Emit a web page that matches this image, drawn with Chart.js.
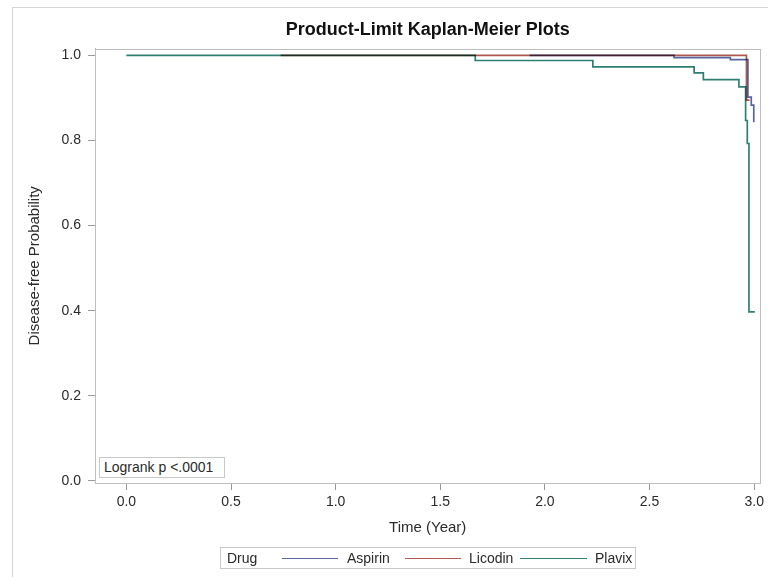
<!DOCTYPE html>
<html>
<head>
<meta charset="utf-8">
<script src="https://cdn.jsdelivr.net/npm/chart.js@4/dist/chart.umd.min.js"></script>
<style>
  html, body { margin: 0; padding: 0; background: #fff; }
  #wrap { position: relative; width: 768px; height: 577px; overflow: hidden; font-family: "Liberation Sans", Arial, sans-serif; color: #2a2a2a; }
  #frame { position: absolute; left: 12px; top: 7px; width: 800px; height: 600px; border-left: 1px solid #d6d6d6; border-top: 1px solid #d6d6d6; }
  canvas { position: absolute; left: 0; top: 0; }
  #logrank { position: absolute; left: 99px; top: 457px; width: 120px; height: 19px; border: 1px solid #c8c8c8; background: #fff; font-size: 14px; line-height: 19px; padding-left: 4px; box-sizing: content-box; }
  #legend { position: absolute; left: 220px; top: 547px; width: 414px; height: 20px; border: 1px solid #c8c8c8; font-size: 14px; }
  #legend span { position: absolute; top: 0; line-height: 20px; white-space: nowrap; }
  #legend i { position: absolute; top: 10px; height: 0; border-top: 1.5px solid; }
</style>
</head>
<body>
<div id="wrap">
  <div id="frame"></div>
  <canvas id="c" width="768" height="577"></canvas>
  <div id="logrank">Logrank p &lt;.0001</div>
  <div id="legend"></div>
</div>
<script>
// ---- data ----
const drugNames = ["Aspirin", "Licodin", "Plavix"];
const drugColors = ["#5865a2", "#b05850", "#2d7f71"];

const aspirinTime = [1.927, 2.617, 2.886, 2.970, 2.986, 2.998];
const aspirinSurv = [1.000, 0.995, 0.990, 0.902, 0.883, 0.843];

const licodinTime = [0.737, 2.963, 2.978];
const licodinSurv = [1.000, 0.895, 0.895];

const plavixTime = [0.000, 1.667, 2.229, 2.713, 2.757, 2.927, 2.959, 2.967, 2.975, 3.003];
const plavixSurv = [1.000, 0.988, 0.973, 0.959, 0.943, 0.926, 0.847, 0.793, 0.397, 0.397];

const xTicks = [0.0, 0.5, 1.0, 1.5, 2.0, 2.5, 3.0];
const yTicks = [0.0, 0.2, 0.4, 0.6, 0.8, 1.0];

const titleText = "Product-Limit Kaplan-Meier Plots";
const xTitle = "Time (Year)";
const yTitle = "Disease-free Probability";
const legendTitle = "Drug";

// ---- build ----
function pts(t, s) { return t.map((v, i) => ({ x: v, y: s[i] })); }
const series = [pts(aspirinTime, aspirinSurv), pts(licodinTime, licodinSurv), pts(plavixTime, plavixSurv)];

const FONT = "'Liberation Sans', Arial, sans-serif";

const framePlugin = {
  id: 'frame',
  beforeDatasetsDraw(chart) {
    const a = chart.chartArea, ctx = chart.ctx;
    ctx.save();
    ctx.strokeStyle = '#bdbdbd';
    ctx.lineWidth = 1;
    ctx.strokeRect(Math.round(a.left) + 0.5, Math.round(a.top) + 0.5, Math.round(a.right - a.left), Math.round(a.bottom - a.top));
    ctx.restore();
    ctx.save();
    ctx.globalCompositeOperation = 'multiply';
  },
  afterDatasetsDraw(chart) { chart.ctx.restore(); }
};

new Chart(document.getElementById('c'), {
  type: 'line',
  data: {
    datasets: series.map((d, i) => ({
      label: drugNames[i],
      data: d,
      borderColor: drugColors[i],
      borderWidth: 1.7,
      pointRadius: 0,
      stepped: 'before',
      fill: false
    }))
  },
  options: {
    responsive: false,
    animation: false,
    devicePixelRatio: 1,
    layout: { padding: { left: 0, right: 5, top: 0, bottom: 0 } },
    plugins: {
      legend: { display: false },
      tooltip: { enabled: false },
      title: {
        display: true,
        text: titleText,
        fullSize: false,
        color: '#111',
        font: { family: FONT, size: 18, weight: 'bold' },
        padding: { top: 19, bottom: 8 }
      }
    },
    scales: {
      x: {
        type: 'linear',
        min: -0.15,
        max: 3.03,
        afterFit(s) { s.height = 94; },
        afterBuildTicks(s) { s.ticks = xTicks.map(v => ({ value: v })); },
        border: { display: true, color: '#bdbdbd' },
        grid: { drawOnChartArea: false, drawTicks: true, tickLength: 7, color: '#9a9a9a' },
        ticks: { color: '#2a2a2a', font: { family: FONT, size: 14 }, padding: 4, callback: v => v.toFixed(1), maxRotation: 0 },
        title: { display: true, text: xTitle, color: '#2a2a2a', font: { family: FONT, size: 15 }, padding: { top: 0, bottom: 40 } }
      },
      y: {
        type: 'linear',
        min: -0.005,
        max: 1.016,
        afterFit(s) { s.width = 95; },
        afterBuildTicks(s) { s.ticks = yTicks.map(v => ({ value: v })); },
        border: { display: true, color: '#bdbdbd' },
        grid: { drawOnChartArea: false, drawTicks: true, tickLength: 7, color: '#9a9a9a' },
        ticks: { color: '#2a2a2a', font: { family: FONT, size: 14 }, padding: 7, callback: v => v.toFixed(1) },
        title: { display: true, text: yTitle, color: '#2a2a2a', font: { family: FONT, size: 15 }, padding: { top: 26, bottom: 0 } }
      }
    }
  },
  plugins: [framePlugin]
});

// ---- legend (HTML) ----
const lg = document.getElementById('legend');
const items = [
  { type: 'text', text: legendTitle, left: 6 },
  { type: 'line', color: drugColors[0], left: 61, width: 56 },
  { type: 'text', text: drugNames[0], left: 126 },
  { type: 'line', color: drugColors[1], left: 184, width: 56 },
  { type: 'text', text: drugNames[1], left: 248 },
  { type: 'line', color: drugColors[2], left: 299, width: 67 },
  { type: 'text', text: drugNames[2], left: 374 }
];
items.forEach(it => {
  if (it.type === 'text') {
    const s = document.createElement('span');
    s.textContent = it.text; s.style.left = it.left + 'px';
    lg.appendChild(s);
  } else {
    const l = document.createElement('i');
    l.style.left = it.left + 'px'; l.style.width = it.width + 'px'; l.style.borderTopColor = it.color;
    lg.appendChild(l);
  }
});
</script>
</body>
</html>
